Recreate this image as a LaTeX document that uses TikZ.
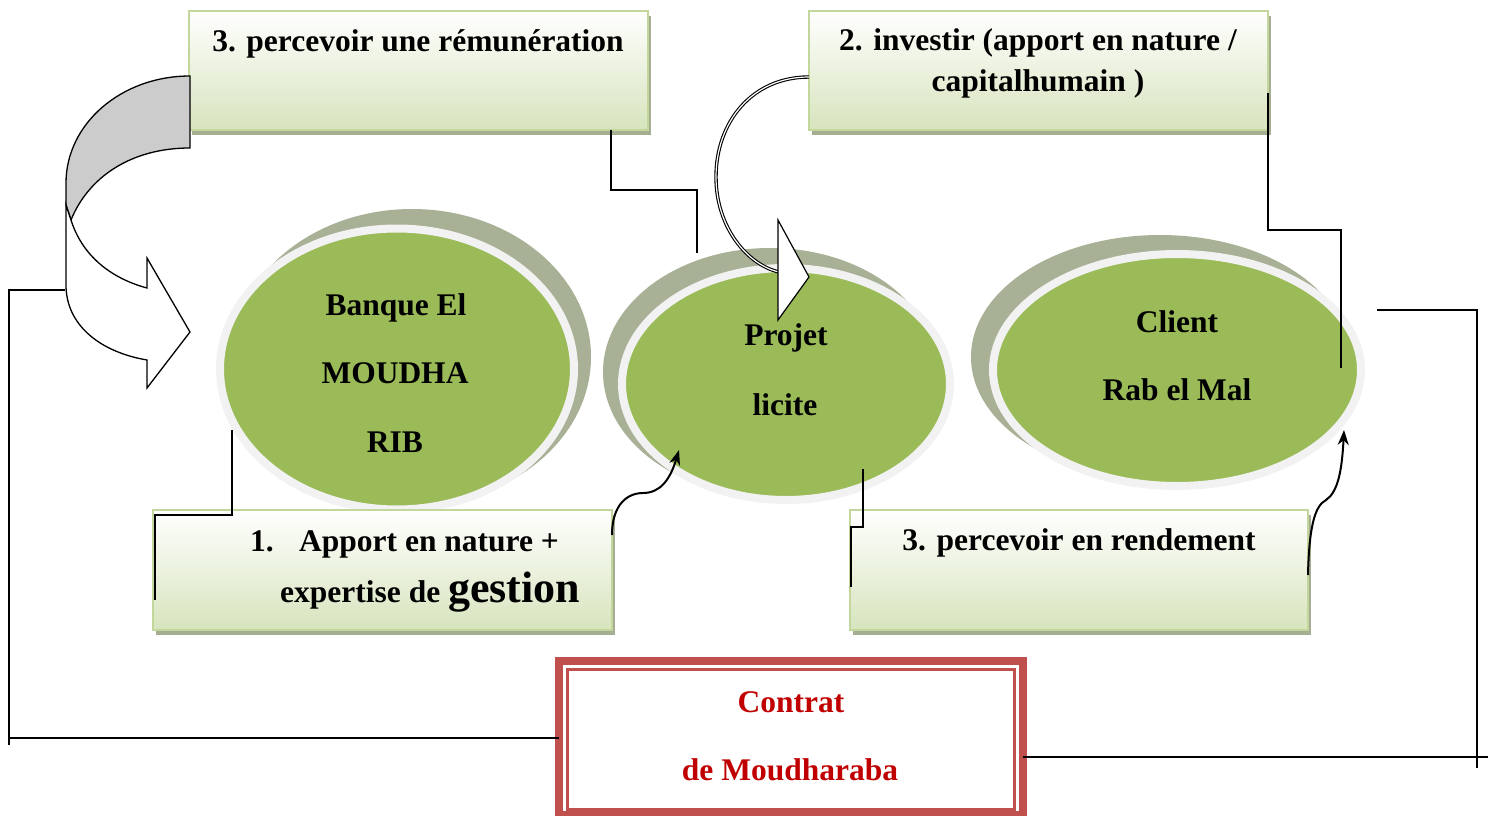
\documentclass[tikz,border=0pt]{standalone}
\usepackage{fontspec}
\setmainfont{Liberation Serif}
\usetikzlibrary{shapes.geometric,shadows,arrows.meta,calc}
\definecolor{boxborder}{HTML}{C3D69B}
\definecolor{boxbottom}{HTML}{D7E4BD}
\definecolor{boxshadow}{HTML}{A5AE93}
\definecolor{ellgreen}{HTML}{9BBB59}
\definecolor{ellring}{HTML}{F2F2F2}
\definecolor{ellshadow}{HTML}{A8B195}
\definecolor{contractred}{HTML}{C0504D}
\definecolor{contracttext}{HTML}{C00000}
\definecolor{arrowgray}{HTML}{CCCCCC}
\begin{document}
\begin{tikzpicture}[x=1pt,y=-1pt,
 gbox/.style={draw=boxborder,line width=2pt,top color=white,bottom color=boxbottom,minimum width=459pt,minimum height=119pt,inner sep=0pt,outer sep=0pt,drop shadow={shadow xshift=3pt,shadow yshift=-5pt,fill=boxshadow,opacity=1}},
 bubble/.style={ellipse,fill=ellgreen,draw=ellring,line width=8pt,inner sep=0pt,outer sep=0pt},
 lbl/.style={font=\fontsize{31.5}{37}\selectfont\bfseries,anchor=base,inner sep=0pt},
 conn/.style={line width=1.3pt},
 curvy/.style={line width=2pt,-{Stealth[length=15pt,width=11pt]}},
]
\useasboundingbox (0,0) rectangle (1488,816);
% ellipses
\fill[ellshadow] (412,357) ellipse [x radius=179pt,y radius=148pt];
\node[bubble,minimum width=354pt,minimum height=281pt] (bank) at (397,369) {};
\fill[ellshadow] (770,372) ellipse [x radius=167pt,y radius=124pt];
\node[bubble,minimum width=328pt,minimum height=232pt] (proj) at (786,384) {};
\fill[ellshadow] (1160,357) ellipse [x radius=189pt,y radius=122pt];
\node[bubble,minimum width=368pt,minimum height=232pt] (client) at (1177,370) {};
% boxes
\node[gbox] (b1) at (418.5,70.5) {};
\node[gbox] (b2) at (1038.5,70.5) {};
\node[gbox,minimum height=120pt] (b3) at (382.5,570) {};
\node[gbox,minimum width=458pt,minimum height=120pt] (b4) at (1079,570) {};
% contract
\node[draw=contractred,line width=8pt,minimum width=464pt,minimum height=154pt,inner sep=0pt,outer sep=0pt] (contract) at (791,738) {};
\draw[contractred,line width=3pt] (567.5,669.5) rectangle (1014.5,809.5);
% connectors
\draw[conn] ([xshift=-37pt]b1.south east) -- (611,190) -- (697,190) -- (697,253);
\draw[conn] ([yshift=-22.5pt]b2.east) -- (1268,230) -- (1341,230) -- (1341,368);
\draw[conn] (232,430) -- (232,515) -- (155,515) -- (155,600);
\draw[conn] (863,469) -- (863,527) -- (851,527) -- (851,587);
\draw[conn] (65,290) -- (9,290) -- (9,745);
\draw[conn] (9,738) -- (contract.west);
\draw[conn] (1377,310) -- (1477,310) -- (1477,768);
\draw[conn] ([yshift=-19pt]contract.east) -- (1488,757);
% curved arrows
\draw[curvy] ([yshift=35pt]b3.east) .. controls (612,505) and (627,493) .. (643,493) .. controls (660,493) and (670,480) .. (679,450);
\draw[curvy] ([yshift=-5pt]b4.east) .. controls (1309,530) and (1314,506) .. (1326,500) .. controls (1338,492) and (1342,470) .. (1344,430);
% block arrow top-left
\draw[line width=1.3pt,fill=arrowgray] (190,76) .. controls (121,76) and (66,124) .. (66,183) -- (66,205) -- (71,220) .. controls (88,178) and (130,148) .. (190,148) -- cycle;
\draw[line width=1.3pt,fill=white] (71,220) .. controls (82,255) and (110,278) .. (147,288) -- (147,258) -- (190,332) -- (147,388) -- (147,360) .. controls (100,352) and (66,325) .. (66,285) -- (66,205) -- cycle;
% thin curved arrow top-right
\draw[line width=1.1pt,double=white,double distance=1.2pt] (809,77) .. controls (752,77) and (716,122) .. (716,177) .. controls (716,228) and (748,265) .. (779,272);
\draw[line width=1.2pt,fill=white] (778,220) -- (809,277) -- (778,320) -- cycle;
% texts
\node[lbl] (t1) at (418,52) {3. percevoir une rémunération};
\node[lbl] (t2a) at (1038,51) {2. investir (apport en nature /};
\node[lbl] (t2b) at (1038,92) {capitalhumain )};
\node[lbl,anchor=base west] (t3a) at (250,551) {1.};
\node[lbl,anchor=base west] (t3b) at (299,551) {Apport en nature +};
\node[lbl,anchor=base west] (t3c) at (280,602) {expertise de {\fontsize{44}{50}\selectfont gestion}};
\node[lbl] (t4) at (1079,550) {3. percevoir en rendement};
\node[lbl] (e1a) at (396,315) {Banque El};
\node[lbl] (e1b) at (395,383) {MOUDHA};
\node[lbl] (e1c) at (395,452) {RIB};
\node[lbl] (e2a) at (786,345) {Projet};
\node[lbl] (e2b) at (785,415) {licite};
\node[lbl] (e3a) at (1177,332) {Client};
\node[lbl] (e3b) at (1177,400) {Rab el Mal};
\node[lbl,text=contracttext] (c1) at (791,712) {Contrat};
\node[lbl,text=contracttext] (c2) at (790,780) {de Moudharaba};
\end{tikzpicture}
\end{document}
